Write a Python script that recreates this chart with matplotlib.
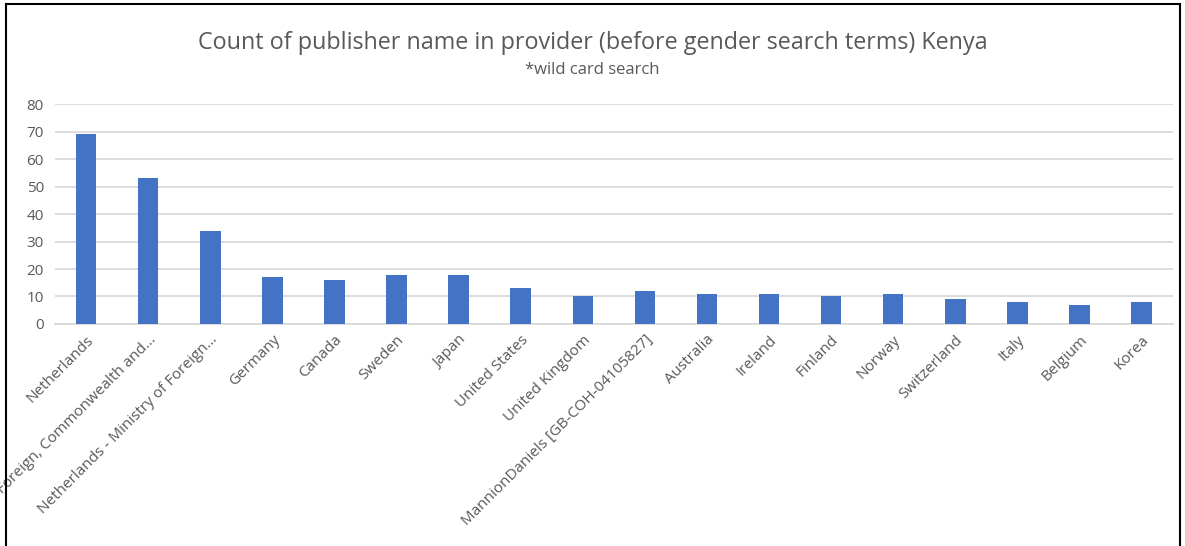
import matplotlib.pyplot as plt
from matplotlib.lines import Line2D

publishers = ["Netherlands", "Foreign, Commonwealth and...", "Netherlands - Ministry of Foreign...",
              "Germany", "Canada", "Sweden", "Japan", "United States", "United Kingdom",
              "MannionDaniels [GB-COH-04105827]", "Australia", "Ireland", "Finland", "Norway",
              "Switzerland", "Italy", "Belgium", "Korea"]
counts = [69, 53, 34, 17, 16, 18, 18, 13, 10, 12, 11, 11, 10, 11, 9, 8, 7, 8]
y_ticks = [0, 10, 20, 30, 40, 50, 60, 70, 80]

plt.rcParams['font.family'] = ['Open Sans', 'DejaVu Sans']
grey = "#595959"

fig = plt.figure(figsize=(11.85, 5.46), dpi=100)
ax = fig.add_axes([0.0465, 0.4066, 0.943, 0.4029])

x = range(len(publishers))
ax.bar(x, counts, width=0.33, color="#4472C4", zorder=3)
ax.set_xlim(-0.5, len(publishers) - 0.5)
ax.set_ylim(0, 80)
ax.set_yticks(y_ticks)
ax.set_yticklabels([str(v) for v in y_ticks], color=grey, fontsize=11)
ax.set_xticks(list(x))
ax.set_xticklabels(publishers, rotation=45, ha="right", rotation_mode="anchor",
                   color=grey, fontsize=11)
ax.tick_params(length=0, pad=8)
ax.tick_params(axis="x", pad=6)
ax.grid(axis="y", color="#D9D9D9", linewidth=1.3, zorder=0)
for s in ["top", "right", "left"]:
    ax.spines[s].set_visible(False)
ax.spines["bottom"].set_color("#D9D9D9")
ax.spines["bottom"].set_linewidth(1.3)

fig.text(0.5, 0.922, "Count of publisher name in provider (before gender search terms) Kenya",
         ha="center", va="center", fontsize=16.8, color=grey)
fig.text(0.5, 0.872, "*wild card search", ha="center", va="center", fontsize=12, color=grey)

# screenshot frame
fig.add_artist(Line2D([0.0051, 0.0051], [0, 0.993], color="black", linewidth=1.5, transform=fig.transFigure))
fig.add_artist(Line2D([0.0051, 0.9962], [0.993, 0.993], color="black", linewidth=1.5, transform=fig.transFigure))
fig.add_artist(Line2D([0.9962, 0.9962], [0, 0.993], color="black", linewidth=1.5, transform=fig.transFigure))

fig.savefig("out.png", dpi=100)
